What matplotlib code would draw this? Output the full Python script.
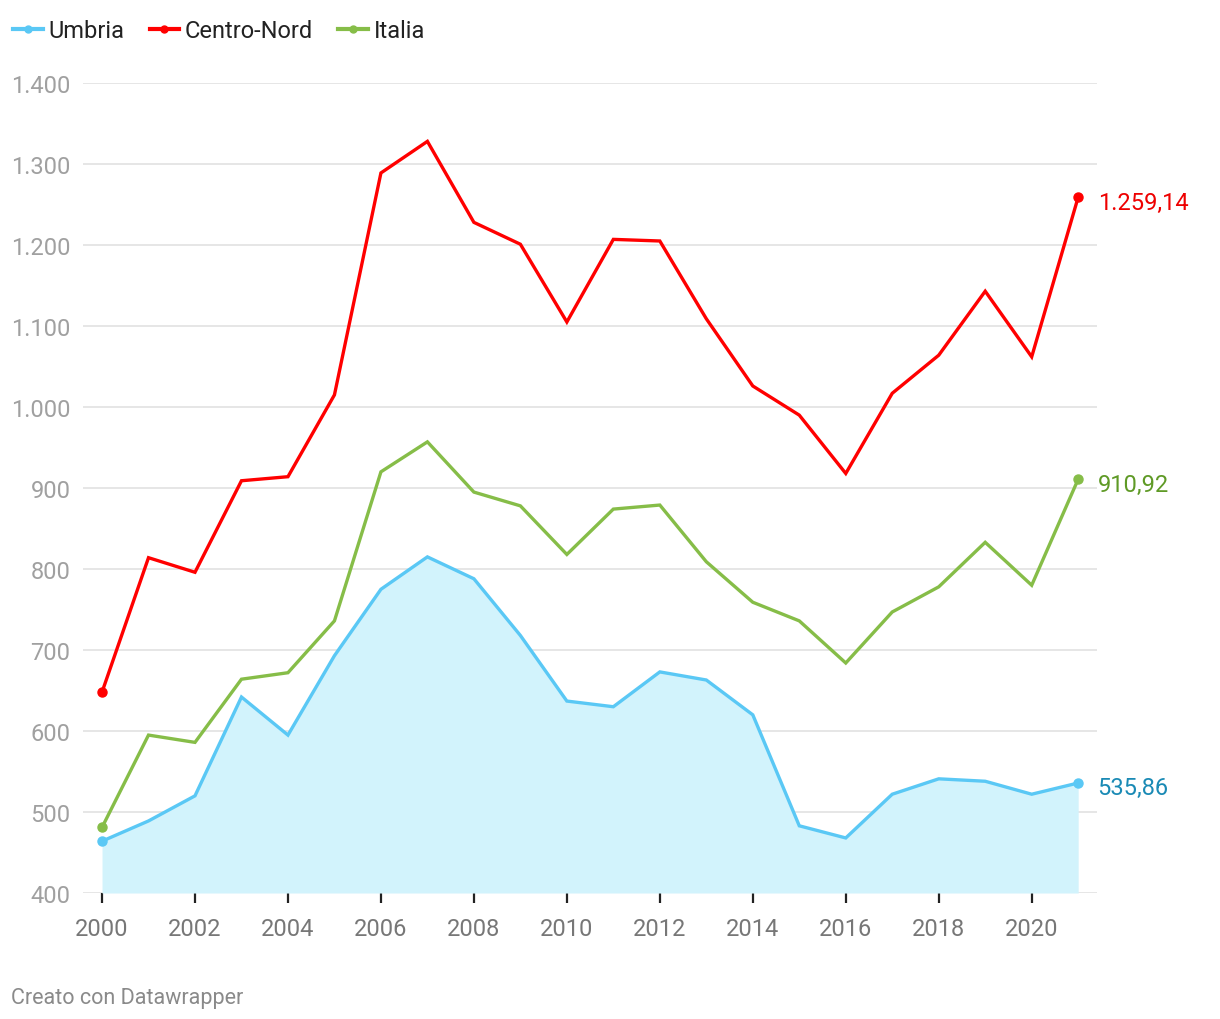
import matplotlib.pyplot as plt
import numpy as np

plt.rcParams["font.family"] = ["Roboto", "DejaVu Sans"]

years = list(range(2000, 2022))
umbria = [464, 489, 520, 642, 595, 693, 775, 815, 788, 718, 637, 630,
          673, 663, 620, 483, 468, 522, 541, 538, 522, 535.86]
centro_nord = [648, 814, 796, 909, 914, 1015, 1289, 1328, 1228, 1201, 1105, 1207,
               1205, 1109, 1026, 990, 918, 1017, 1064, 1143, 1062, 1259.14]
italia = [481, 595, 586, 664, 672, 736, 920, 957, 895, 878, 818, 874,
          879, 809, 759, 736, 684, 747, 778, 833, 780, 910.92]

series = [
    ("Umbria", umbria, "#5ac8f5", "#1a8ab5"),
    ("Centro-Nord", centro_nord, "#ff0000", "#ee0000"),
    ("Italia", italia, "#86bd48", "#5f9a26"),
]
yticks = [400, 500, 600, 700, 800, 900, 1000, 1100, 1200, 1300, 1400]
ytick_labels = ["400", "500", "600", "700", "800", "900", "1.000",
                "1.100", "1.200", "1.300", "1.400"]
xticks = list(range(2000, 2021, 2))


def fmt_it(v):
    s = f"{v:,.2f}"
    return s.replace(",", "X").replace(".", ",").replace("X", ".")


fig = plt.figure(figsize=(12.2, 10.2), dpi=100)
ax = fig.add_axes([0.068, 0.1235, 0.831, 0.7941])

ax.fill_between(years, umbria, 400, color="#d2f3fc", lw=0, zorder=1)
for name, vals, col, lab_col in series:
    ax.plot(years, vals, color=col, lw=2.4, zorder=3, label=name,
            solid_joinstyle="miter")
    ax.plot([years[0], years[-1]], [vals[0], vals[-1]], "o", color=col,
            ms=6.5, zorder=4)
    ax.annotate(fmt_it(vals[-1]), (years[-1], vals[-1]), xytext=(14, -3.5),
                textcoords="offset points", va="center", ha="left",
                color=lab_col, fontsize=17, annotation_clip=False)

ax.set_xlim(1999.59, 2021.4)
ax.set_ylim(400, 1400)
ax.set_yticks(yticks)
ax.set_yticklabels(ytick_labels)
ax.set_xticks(xticks)
ax.grid(axis="y", color="#e2e2e2", lw=1.2, zorder=0)
ax.set_axisbelow(True)
for s in ax.spines.values():
    s.set_visible(False)
ax.tick_params(axis="y", length=0, pad=9, labelsize=17, labelcolor="#a0a0a0")
ax.tick_params(axis="x", length=7, width=1.6, color="#222222", pad=10,
               labelsize=17, labelcolor="#777777", direction="out")

leg_handles = [plt.Line2D([], [], color=c, lw=3, marker="o", ms=5)
               for _, _, c, _ in series]
fig.legend(leg_handles, [s[0] for s in series], loc="upper left",
           bbox_to_anchor=(-0.0065, 1.001), ncol=3, frameon=False, fontsize=17,
           handlelength=1.25, handletextpad=0.25, columnspacing=1.05,
           labelcolor="#222222")

fig.text(0.009, 0.016, "Creato con Datawrapper", color="#8a8a8a", fontsize=15.5)

fig.savefig("out.png", dpi=100)
